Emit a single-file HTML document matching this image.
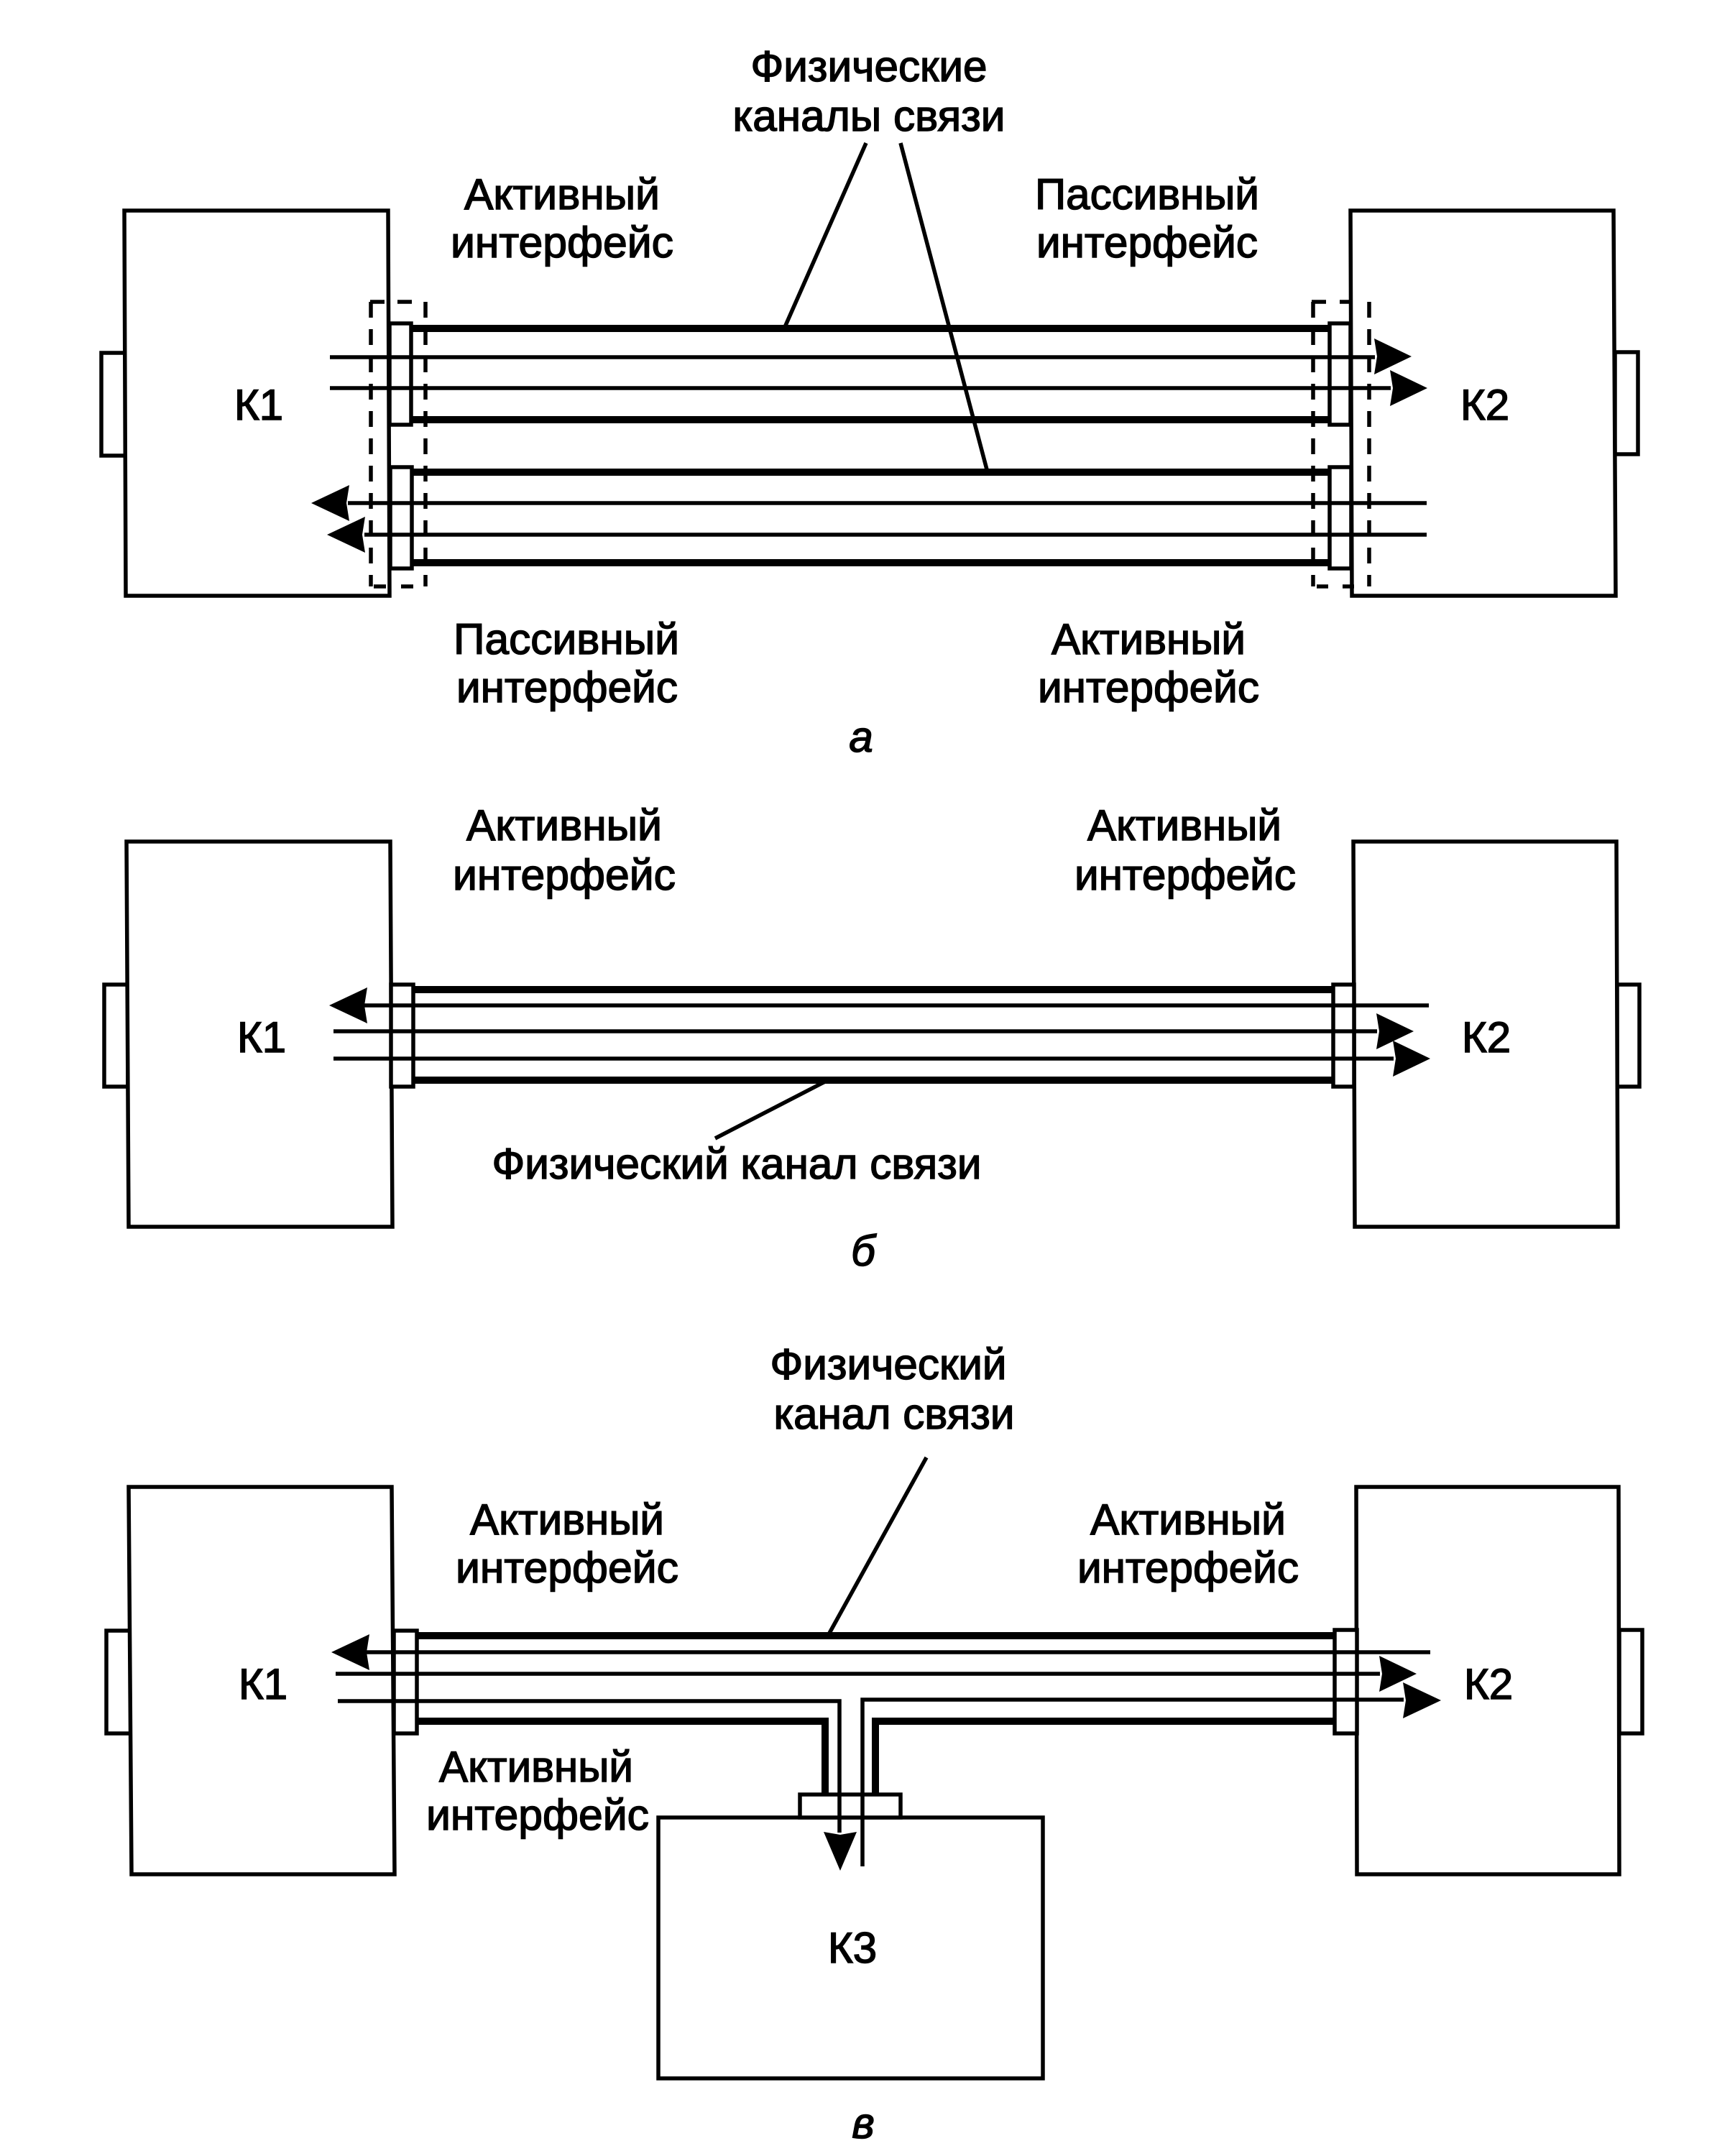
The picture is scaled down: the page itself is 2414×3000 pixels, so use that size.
<!DOCTYPE html>
<html>
<head>
<meta charset="utf-8">
<style>
html,body{margin:0;padding:0;background:#fff;}
svg{display:block;}
text{font-family:"Liberation Sans",sans-serif;font-size:60px;fill:#000;stroke:#000;stroke-width:1.5px;text-anchor:middle;}
.i{font-style:italic;}
.b{fill:#fff;stroke:#000;stroke-width:5.5;}
.f{fill:none;stroke:#000;stroke-width:5.5;}
.k{fill:none;stroke:#000;stroke-width:10;}
.d{fill:none;stroke:#000;stroke-width:5.5;stroke-dasharray:22 16;}
.a{fill:#000;stroke:none;}
</style>
</head>
<body>
<svg width="2414" height="3000" viewBox="0 0 2414 3000" xmlns="http://www.w3.org/2000/svg">
<rect width="2414" height="3000" fill="#fff"/>

<!-- A -->
<rect class="b" x="141" y="491" width="34" height="143"/>
<rect class="b" x="2247" y="490" width="32" height="142"/>
<polygon class="b" points="173,293 540,293 542,829 175,829"/>
<polygon class="b" points="1879,293 2245,293 2248,829 1881,829"/>
<rect class="b" x="542" y="450" width="30" height="141"/>
<rect class="b" x="543" y="650" width="30" height="141"/>
<rect class="b" x="1850" y="450" width="29" height="141"/>
<rect class="b" x="1850" y="650" width="30" height="141"/>
<path class="k" d="M572 457H1850M572 584H1850M572 657H1850M572 783H1850"/>
<path class="f" d="M459 497H1913M459 540H1935M484 700H1985M507 744H1985"/>
<path class="d" d="M516 420V816M592 420V816M1827 420V816M1905 420V816"/>
<path class="f" d="M515 420H535M553 420H573M520 816H537M558 816H575M1825 420H1845M1864 420H1881M1832 816H1848M1868 816H1884"/>
<path class="a" d="M433 700L486 675L482 700L486 725Z"/>
<path class="a" d="M455 744L508 719L504 744L508 769Z"/>
<path class="a" d="M1964 496L1912 471L1916 496L1912 521Z"/>
<path class="a" d="M1986 540L1934 515L1938 540L1934 565Z"/>
<path class="f" d="M1205 199L1092 455M1253 199L1374 657"/>

<text x="1209" y="113" textLength="329" lengthAdjust="spacingAndGlyphs">Физические</text>
<text x="1209" y="182" textLength="379" lengthAdjust="spacingAndGlyphs">каналы связи</text>
<text x="782" y="291" textLength="272" lengthAdjust="spacingAndGlyphs">Активный</text>
<text x="782" y="358" textLength="310" lengthAdjust="spacingAndGlyphs">интерфейс</text>
<text x="1596" y="291" textLength="312" lengthAdjust="spacingAndGlyphs">Пассивный</text>
<text x="1596" y="358" textLength="308" lengthAdjust="spacingAndGlyphs">интерфейс</text>
<text x="360" y="584">К1</text>
<text x="2066" y="584">К2</text>
<text x="788" y="910" textLength="314" lengthAdjust="spacingAndGlyphs">Пассивный</text>
<text x="789" y="977" textLength="308" lengthAdjust="spacingAndGlyphs">интерфейс</text>
<text x="1598" y="910" textLength="270" lengthAdjust="spacingAndGlyphs">Активный</text>
<text x="1598" y="977" textLength="308" lengthAdjust="spacingAndGlyphs">интерфейс</text>
<text class="i" x="1198" y="1046">а</text>

<!-- B -->
<rect class="b" x="145" y="1370" width="33" height="142"/>
<rect class="b" x="2250" y="1370" width="31" height="142"/>
<polygon class="b" points="176,1171 543,1171 546,1707 179,1707"/>
<polygon class="b" points="1883,1171 2249,1171 2251,1707 1885,1707"/>
<rect class="b" x="544" y="1370" width="31" height="142"/>
<rect class="b" x="1855" y="1370" width="29" height="142"/>
<path class="k" d="M575 1377H1855M575 1503H1855"/>
<path class="f" d="M505 1399H1988M464 1435H1916M464 1473H1939"/>
<path class="a" d="M458 1399L511 1374L507 1399L511 1424Z"/>
<path class="a" d="M1967 1435L1915 1410L1919 1435L1915 1460Z"/>
<path class="a" d="M1990 1473L1938 1448L1942 1473L1938 1498Z"/>
<path class="f" d="M1148 1505L995 1584"/>

<text x="785" y="1169" textLength="272" lengthAdjust="spacingAndGlyphs">Активный</text>
<text x="785" y="1238" textLength="310" lengthAdjust="spacingAndGlyphs">интерфейс</text>
<text x="1648" y="1169" textLength="270" lengthAdjust="spacingAndGlyphs">Активный</text>
<text x="1649" y="1238" textLength="308" lengthAdjust="spacingAndGlyphs">интерфейс</text>
<text x="364" y="1464">К1</text>
<text x="2068" y="1464">К2</text>
<text x="1025" y="1640" textLength="681" lengthAdjust="spacingAndGlyphs">Физический канал связи</text>
<text class="i" x="1201" y="1761">б</text>

<!-- C -->
<rect class="b" x="148" y="2269" width="34" height="143"/>
<rect class="b" x="2253" y="2268" width="32" height="144"/>
<polygon class="b" points="179,2069 545,2069 549,2608 183,2608"/>
<polygon class="b" points="1887,2069 2252,2069 2253,2608 1888,2608"/>
<rect class="b" x="548" y="2269" width="32" height="143"/>
<rect class="b" x="1857" y="2268" width="31" height="144"/>
<rect class="b" x="916" y="2529" width="535" height="363"/>
<rect class="b" x="1113" y="2497" width="140" height="32"/>
<path class="k" d="M580 2276H1857M580 2395H1148V2497M1857 2395H1218V2497"/>
<path class="f" d="M505 2299H1990M467 2329H1920M470 2367H1168V2550M1953 2365H1200V2597"/>
<path class="a" d="M461 2299L514 2274L510 2299L514 2324Z"/>
<path class="a" d="M1971 2329L1919 2304L1923 2329L1919 2354Z"/>
<path class="a" d="M2005 2366L1952 2341L1956 2366L1952 2391Z"/>
<path class="a" d="M1169 2603L1146 2549L1169 2553L1192 2549Z"/>
<path class="f" d="M1289 2028L1152 2276"/>

<text x="1236" y="1919" textLength="329" lengthAdjust="spacingAndGlyphs">Физический</text>
<text x="1244" y="1988" textLength="335" lengthAdjust="spacingAndGlyphs">канал связи</text>
<text x="789" y="2135" textLength="270" lengthAdjust="spacingAndGlyphs">Активный</text>
<text x="789" y="2202" textLength="310" lengthAdjust="spacingAndGlyphs">интерфейс</text>
<text x="1653" y="2135" textLength="272" lengthAdjust="spacingAndGlyphs">Активный</text>
<text x="1653" y="2202" textLength="308" lengthAdjust="spacingAndGlyphs">интерфейс</text>
<text x="366" y="2364">К1</text>
<text x="2071" y="2364">К2</text>
<text x="746" y="2479" textLength="270" lengthAdjust="spacingAndGlyphs">Активный</text>
<text x="748" y="2546" textLength="310" lengthAdjust="spacingAndGlyphs">интерфейс</text>
<text x="1186" y="2731">К3</text>
<text class="i" x="1201" y="2975">в</text>
</svg>
</body>
</html>
